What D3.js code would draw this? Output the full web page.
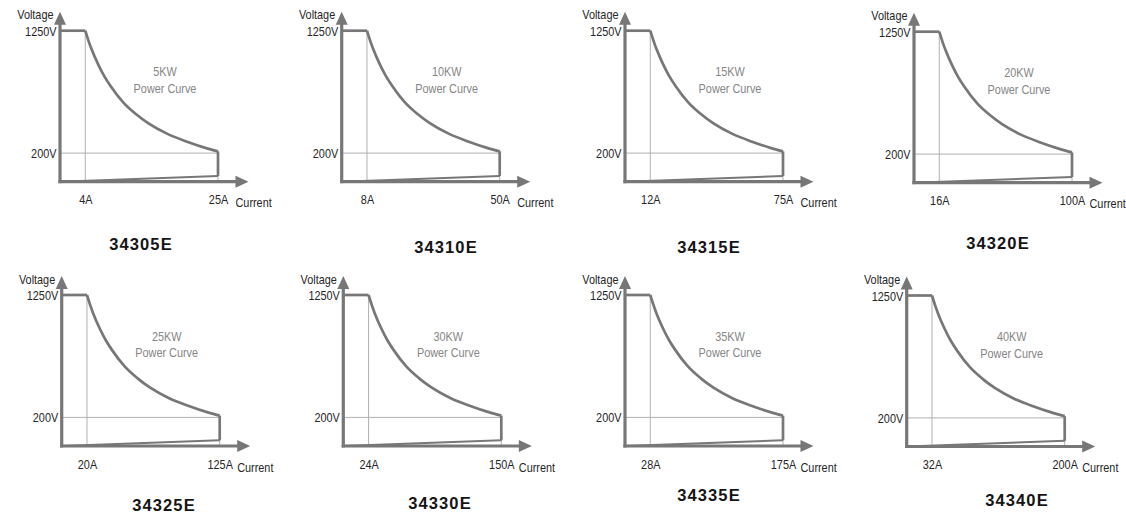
<!DOCTYPE html>
<html>
<head>
<meta charset="utf-8">
<script src="https://cdn.jsdelivr.net/npm/d3@7"></script>
<style>
  html, body { margin: 0; padding: 0; background: #ffffff; }
  svg { display: block; }
</style>
</head>
<body>
<svg id="chart" width="1126" height="513"></svg>
<script>
// ---------------- data ----------------
const models      = ["34305E", "34310E", "34315E", "34320E", "34325E", "34330E", "34335E", "34340E"];
const powerKW     = [5, 10, 15, 20, 25, 30, 35, 40];
const minCurrent  = [4, 8, 12, 16, 20, 24, 28, 32];        // A, knee current at 1250 V
const maxCurrent  = [25, 50, 75, 100, 125, 150, 175, 200]; // A, full-scale current
const voltageTicks = [200, 1250];                          // V
// power-curve outline, current expressed as a multiple of the knee current
const curveCurrentPerMin = [1, 1.125, 1.25, 1.5, 1.75, 2, 2.5, 3, 3.5, 4.25, 5, 5.75, 6.25];
const curveVoltage       = [1250, 1165, 1090, 965, 860, 775, 635, 535, 455, 365, 300, 245, 215];
// lower boundary line: voltage at zero and at full-scale current
const lowerLineVoltage   = [0, 40];

// ---------------- layout (positions only) ----------------
const panelLayout = [
  {ox: 60,    oy: 181.7, tx: 141,  ty: 244},
  {ox: 341.7, oy: 181.7, tx: 446,  ty: 246.5},
  {ox: 625,   oy: 181.7, tx: 709,  ty: 246.7},
  {ox: 914,   oy: 182.7, tx: 998,  ty: 243.3},
  {ox: 61.7,  oy: 446,   tx: 164,  ty: 505},
  {ox: 343.3, oy: 446,   tx: 440,  ty: 503.3},
  {ox: 625,   oy: 446,   tx: 709,  ty: 495},
  {ox: 906.7, oy: 446.5, tx: 1017, ty: 500}
];
const plotW = 158, h200 = 28.6, h1250 = 151;
const thick = "#777777", thin = "#b0b0b0", labelCol = "#262626", noteCol = "#858585";
const FONT = "'Liberation Sans', Arial, Helvetica, sans-serif";
const SX = 0.87, FS = 12.5;

const svg = d3.select("#chart");
svg.append("rect").attr("width", 1126).attr("height", 513).attr("fill", "#fff");

function txt(g, x, y, s, opts) {
  const t = g.append("text")
    .attr("transform", `translate(${x},${y}) scale(${opts.sx || SX},1)`)
    .attr("font-family", FONT)
    .attr("font-size", opts.size || FS)
    .attr("fill", opts.fill || labelCol)
    .attr("text-anchor", opts.anchor || "start")
    .text(s);
  if (opts.weight) t.attr("font-weight", opts.weight);
  if (opts.ls) t.attr("letter-spacing", opts.ls);
  return t;
}

models.forEach((model, i) => {
  const L = panelLayout[i];
  const g = svg.append("g");
  const x = d3.scaleLinear().domain([0, maxCurrent[i]]).range([L.ox, L.ox + plotW]);
  const y = d3.scaleLinear().domain([0, 200, 1250]).range([L.oy, L.oy - h200, L.oy - h1250]);
  const line = d3.line().x(d => x(d[0])).y(d => y(d[1]));

  // thin reference lines
  g.append("path").attr("d", line([[0, 200], [maxCurrent[i], 200]]))
    .attr("stroke", thin).attr("stroke-width", 1).attr("fill", "none");
  g.append("path").attr("d", line([[minCurrent[i], 1250], [minCurrent[i], 0]]))
    .attr("stroke", thin).attr("stroke-width", 1).attr("fill", "none");
  g.append("path").attr("d", line([[maxCurrent[i], 200], [maxCurrent[i], 0]]))
    .attr("stroke", thin).attr("stroke-width", 1).attr("fill", "none");

  // lower boundary line
  g.append("path").attr("d", line([[0, lowerLineVoltage[0]], [maxCurrent[i], lowerLineVoltage[1]]]))
    .attr("stroke", thick).attr("stroke-width", 2).attr("fill", "none");

  // constant-voltage segment
  g.append("path").attr("d", line([[0, 1250], [minCurrent[i], 1250]]))
    .attr("stroke", thick).attr("stroke-width", 2.7).attr("fill", "none");
  // power curve
  const pts = curveCurrentPerMin.map((m, k) => [m * minCurrent[i], curveVoltage[k]]);
  g.append("path").attr("d", d3.line().x(d => x(d[0])).y(d => y(d[1])).curve(d3.curveMonotoneX)(pts))
    .attr("stroke", thick).attr("stroke-width", 2.7).attr("fill", "none");
  // right edge
  g.append("path").attr("d", line([[maxCurrent[i], curveVoltage[curveVoltage.length - 1]], [maxCurrent[i], lowerLineVoltage[1]]]))
    .attr("stroke", thick).attr("stroke-width", 2.7).attr("fill", "none");

  // axes with arrows
  const yTop = L.oy - 170, xRight = x.range()[1] + 30.5;
  g.append("line").attr("x1", L.ox).attr("x2", L.ox).attr("y1", L.oy + 1.5).attr("y2", yTop + 10)
    .attr("stroke", thick).attr("stroke-width", 3.2);
  g.append("path").attr("d", `M${L.ox},${yTop} L${L.ox - 6},${yTop + 13} L${L.ox + 6},${yTop + 13} Z`).attr("fill", thick);
  g.append("line").attr("x1", L.ox - 1.6).attr("x2", xRight - 10).attr("y1", L.oy).attr("y2", L.oy)
    .attr("stroke", thick).attr("stroke-width", 3.2);
  g.append("path").attr("d", `M${xRight},${L.oy} L${xRight - 13},${L.oy - 6} L${xRight - 13},${L.oy + 6} Z`).attr("fill", thick);

  // voltage tick labels via d3 axis
  const ya = g.append("g").attr("transform", `translate(${L.ox},0)`)
    .call(d3.axisLeft(y).tickValues(voltageTicks).tickFormat(d => d + "V").tickSize(0).tickPadding(0));
  ya.select(".domain").remove();
  ya.selectAll("text")
    .attr("x", null).attr("dy", null)
    .attr("transform", "translate(-3.5,4.5) scale(" + SX + ",1)")
    .attr("font-family", FONT).attr("font-size", FS).attr("fill", labelCol);

  // current tick labels via d3 axis
  const xa = g.append("g").attr("transform", `translate(0,${L.oy})`)
    .call(d3.axisBottom(x).tickValues([minCurrent[i], maxCurrent[i]]).tickFormat(d => d + "A").tickSize(0).tickPadding(0));
  xa.select(".domain").remove();
  xa.selectAll("text")
    .attr("y", null).attr("dy", null)
    .attr("transform", "translate(0,22.5) scale(" + SX + ",1)")
    .attr("font-family", FONT).attr("font-size", FS).attr("fill", labelCol);

  // axis titles
  txt(g, L.ox - 6.5, L.oy - 162.5, "Voltage", {anchor: "end"});
  txt(g, x.range()[1] + 17.5, L.oy + 25.5, "Current", {anchor: "start"});

  // power note
  const nx = L.ox + 105;
  txt(g, nx, L.oy - 105.5, powerKW[i] + "KW", {anchor: "middle", fill: noteCol});
  txt(g, nx, L.oy - 89, "Power Curve", {anchor: "middle", fill: noteCol});

  // model title
  txt(g, L.tx, L.ty + 6, model, {anchor: "middle", size: 16.5, weight: "bold", fill: "#151515", sx: 1, ls: 1.1});
});
</script>
</body>
</html>
